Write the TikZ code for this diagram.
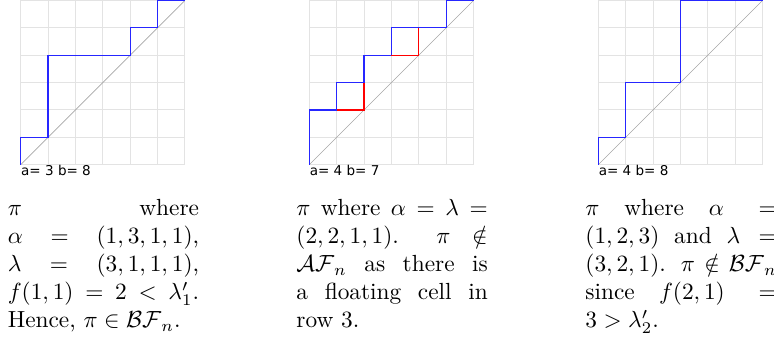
\documentclass[tikz,border=0pt]{standalone}
\usepackage{amsmath, amssymb}
\usepackage{fontspec}
\newfontfamily\plotfont{DejaVu Sans}
\usepackage{tikz}
\usetikzlibrary{positioning}

\begin{document}
\begin{tikzpicture}[
  x=0.4286pt, y=0.4286pt,
  gridline/.style={gray!22, line width=0.45pt},
  diagline/.style={gray!70, line width=0.25pt},
  pathline/.style={blue!85!white, line width=0.55pt},
  floatline/.style={red, line width=0.55pt},
  plotlabel/.style={font=\plotfont\fontsize{5.8}{7}\selectfont, inner sep=0pt, anchor=base west},
  caption/.style={text width=82pt, align=justify, inner sep=0pt, anchor=base west},
]
\useasboundingbox (0,0) rectangle (774,343);

% Left path: alpha = (1,3,1,1)
\begin{scope}[shift={(20.7,178.3)}, x=11.73pt, y=11.73pt]
  \foreach \i in {0,...,6} {
    \draw[gridline] (\i,0) -- (\i,6);
    \draw[gridline] (0,\i) -- (6,\i);
  }
  \draw[diagline] (0,0) -- (6,6);
  \draw[pathline] (0,0) |- (1,1) |- (4,4) |- (5,5) |- (6,6);
\end{scope}

% Middle path: floating cell in row 3
\begin{scope}[shift={(309.3,178.3)}, x=11.73pt, y=11.73pt]
  \foreach \i in {0,...,6} {
    \draw[gridline] (\i,0) -- (\i,6);
    \draw[gridline] (0,\i) -- (6,\i);
  }
  \draw[diagline] (0,0) -- (6,6);
  \draw[pathline] (0,0) |- (1,2) |- (2,3) |- (3,4) |- (5,5) |- (6,6);
  \draw[floatline] (1,2) -| (2,3);
  \draw[floatline] (3,4) -| (4,5);
\end{scope}

% Right path: alpha = (1,2,3)
\begin{scope}[shift={(598.3,178.3)}, x=11.73pt, y=11.73pt]
  \foreach \i in {0,...,6} {
    \draw[gridline] (\i,0) -- (\i,6);
    \draw[gridline] (0,\i) -- (6,\i);
  }
  \draw[diagline] (0,0) -- (6,6);
  \draw[pathline] (0,0) |- (1,1) |- (3,3) |- (6,6);
\end{scope}

% Labels under the grids
\node[plotlabel] (labA) at (20.7,167) {a= 3 b= 8};
\node[plotlabel] (labB) at (309.3,167) {a= 4 b= 7};
\node[plotlabel] (labC) at (598.3,167) {a= 4 b= 8};

% Captions
\node[caption] (capA) at (7.3,127.3) {\(\pi\) where\linebreak \(\alpha = (1,3,1,1)\),\linebreak \(\lambda = (3,1,1,1)\),\linebreak \(f(1,1) = 2 < \lambda'_1\).\linebreak Hence, \(\pi \in \mathcal{BF}_n\).};
\node[caption] (capB) at (296,127.3) {\(\pi\) where \(\alpha = \lambda =\)\linebreak \((2,2,1,1)\). \(\pi \notin\)\linebreak \(\mathcal{AF}_n\) as there is\linebreak a floating cell in\linebreak row 3.};
\node[caption] (capC) at (585,127.3) {\(\pi\) where \(\alpha =\)\linebreak \((1,2,3)\) and \(\lambda =\)\linebreak \((3,2,1)\). \(\pi \notin \mathcal{BF}_n\)\linebreak since \(f(2,1) =\)\linebreak \(3 > \lambda'_2\).};

\end{tikzpicture}
\end{document}
